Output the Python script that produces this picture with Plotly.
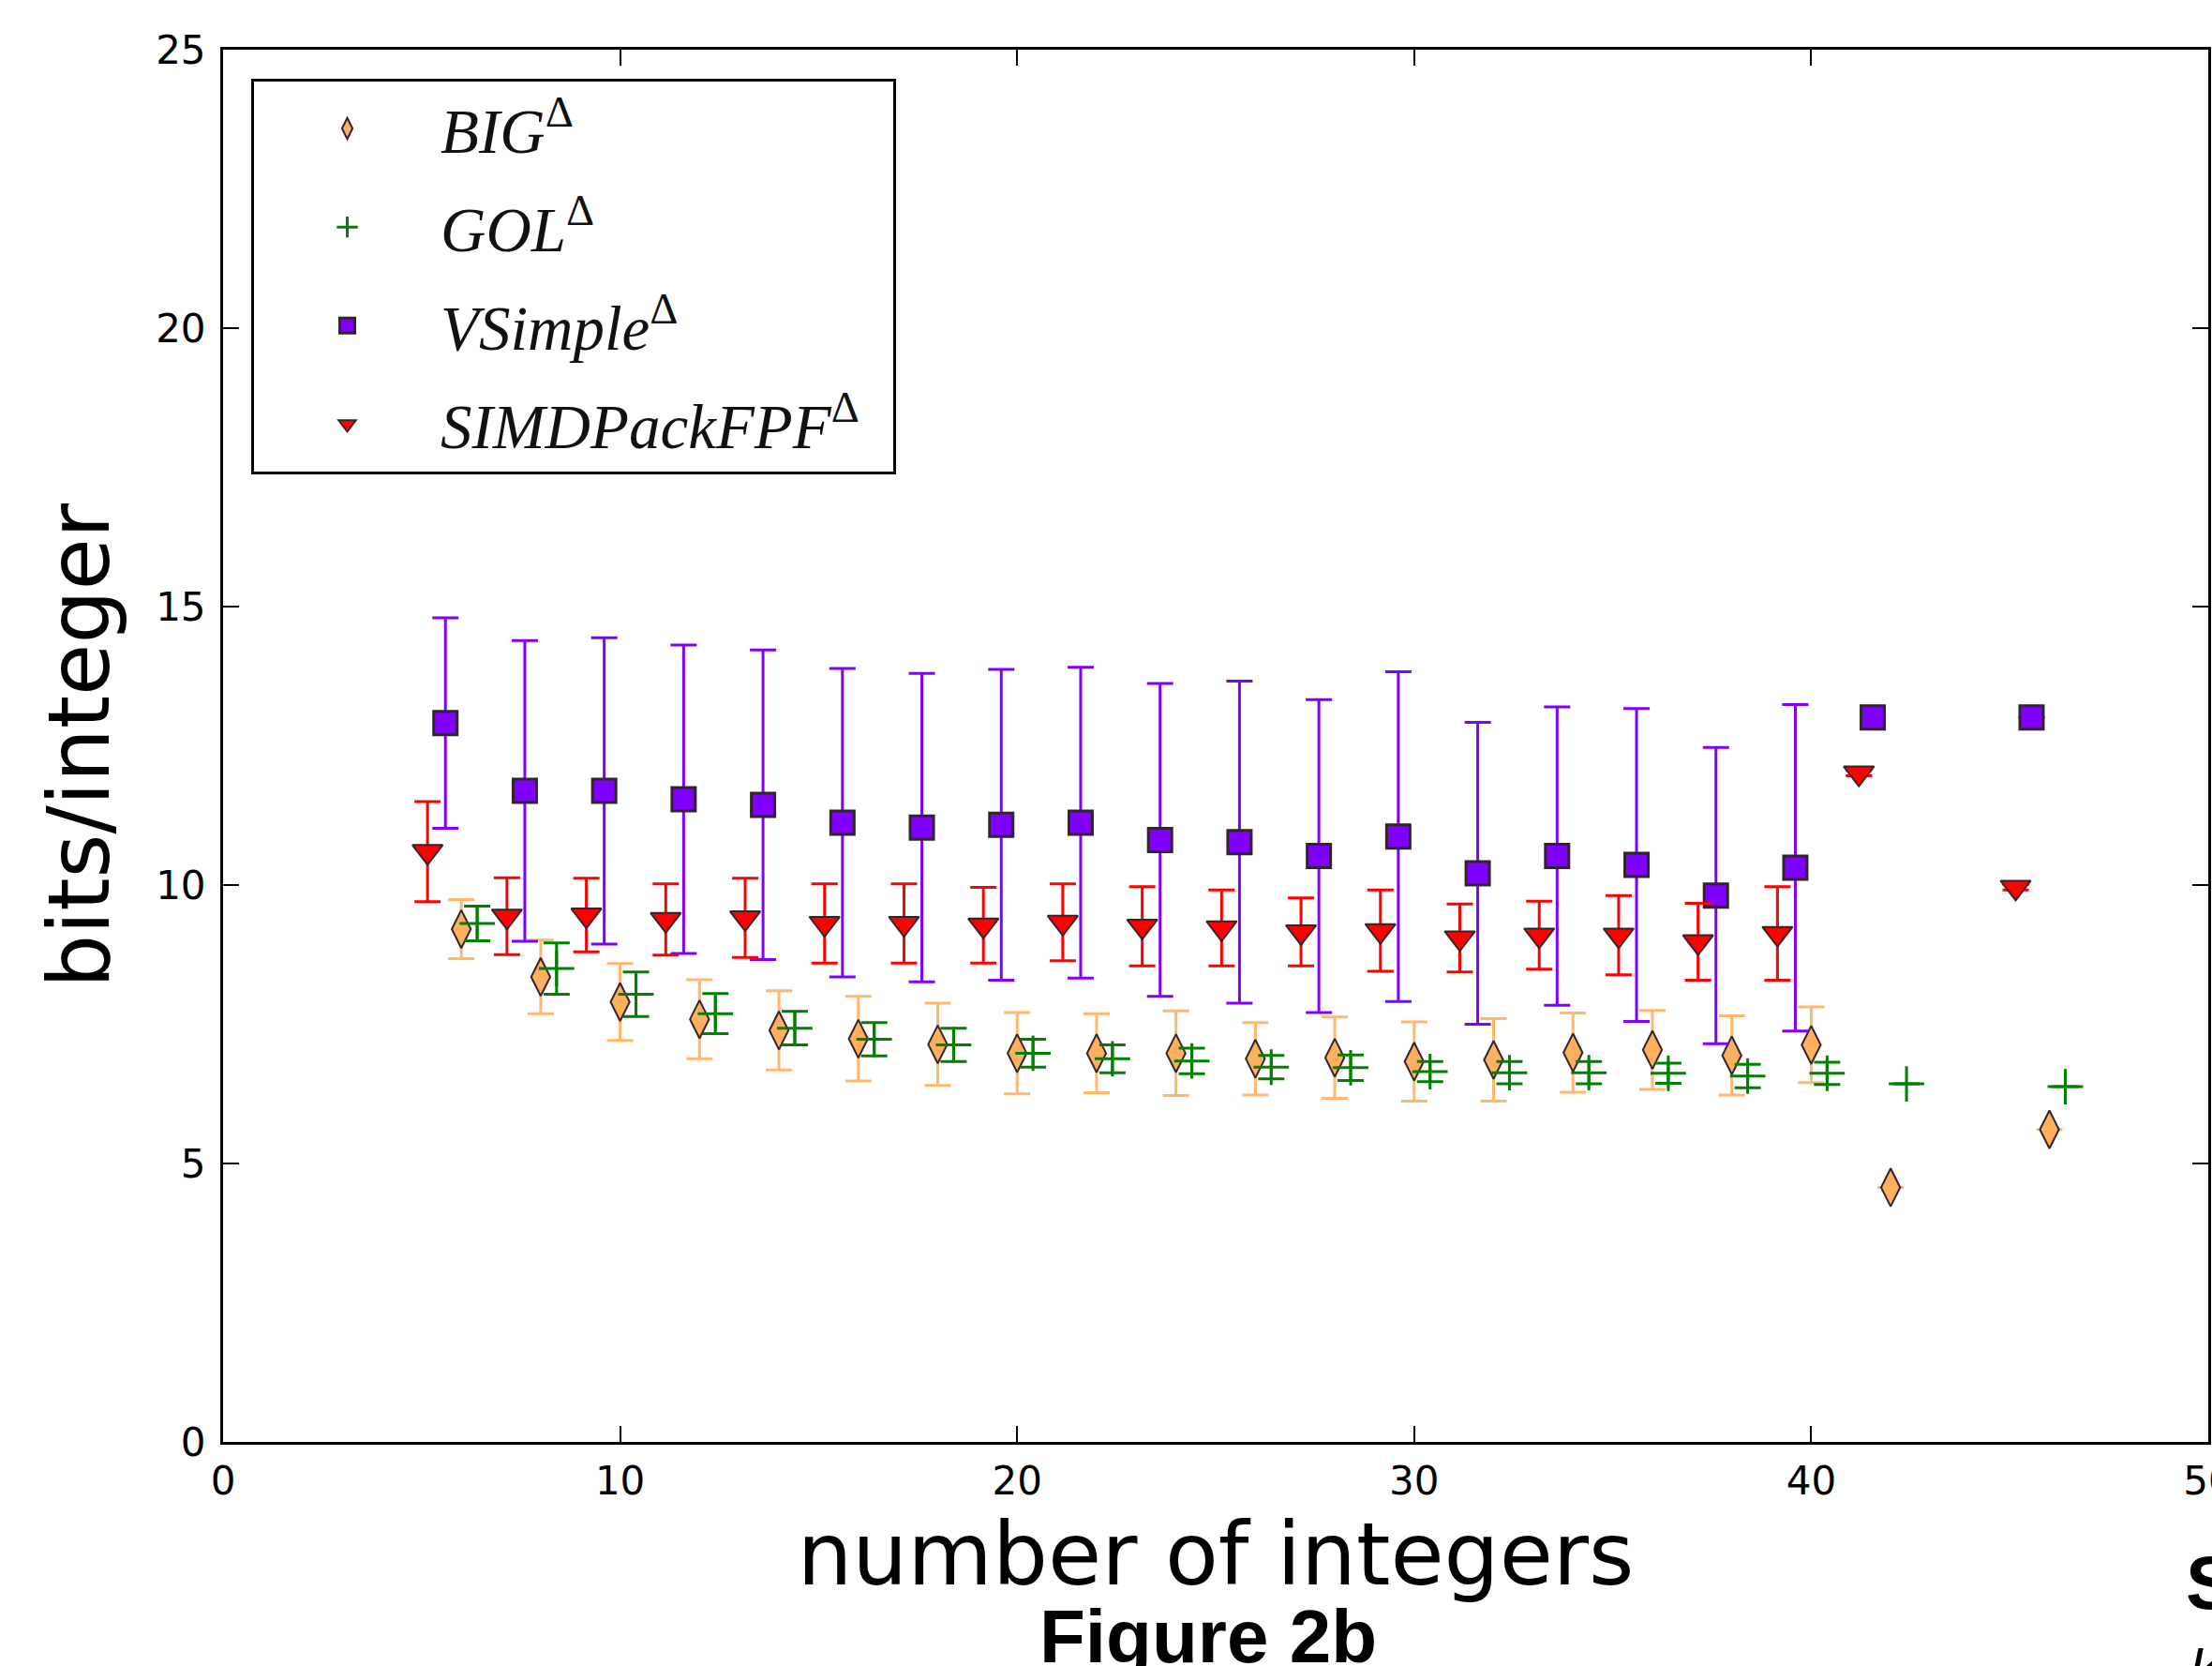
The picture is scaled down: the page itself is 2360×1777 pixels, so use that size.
import plotly.graph_objects as go

# ---------------- data ----------------
big_x = [6, 8, 10, 12, 14, 16, 18, 20, 22, 24, 26, 28, 30, 32, 34, 36, 38, 40, 42, 46]
big_y = [9.21, 8.35, 7.90, 7.59, 7.39, 7.24, 7.14, 6.98, 6.98, 6.98, 6.88, 6.90, 6.83, 6.86, 6.99, 7.04, 6.94, 7.13, 4.57, 5.61]
big_err = [0.53, 0.66, 0.69, 0.71, 0.71, 0.76, 0.74, 0.73, 0.71, 0.76, 0.65, 0.73, 0.71, 0.74, 0.71, 0.71, 0.71, 0.68, 0.0, 0.0]

gol_x = [6.4, 8.4, 10.4, 12.4, 14.4, 16.4, 18.4, 20.4, 22.4, 24.4, 26.4, 28.4, 30.4, 32.4, 34.4, 36.4, 38.4, 40.4, 42.4, 46.4]
gol_y = [9.31, 8.50, 8.04, 7.69, 7.43, 7.23, 7.13, 6.98, 6.88, 6.84, 6.73, 6.72, 6.65, 6.63, 6.63, 6.62, 6.57, 6.62, 6.43, 6.38]
gol_err = [0.31, 0.46, 0.40, 0.36, 0.30, 0.30, 0.30, 0.25, 0.25, 0.23, 0.21, 0.23, 0.18, 0.20, 0.20, 0.18, 0.21, 0.20, 0.0, 0.0]

vs_x = [5.6, 7.6, 9.6, 11.6, 13.6, 15.6, 17.6, 19.6, 21.6, 23.6, 25.6, 27.6, 29.6, 31.6, 33.6, 35.6, 37.6, 39.6, 41.55, 45.55]
vs_y = [12.91, 11.69, 11.69, 11.54, 11.44, 11.12, 11.03, 11.08, 11.12, 10.81, 10.77, 10.52, 10.87, 10.21, 10.52, 10.36, 9.81, 10.31, 13.01, 13.01]
vs_err = [1.89, 2.70, 2.75, 2.77, 2.78, 2.77, 2.77, 2.79, 2.79, 2.81, 2.89, 2.81, 2.96, 2.71, 2.68, 2.81, 2.66, 2.93, 0.0, 0.0]

simd_x = [5.15, 7.15, 9.15, 11.15, 13.15, 15.15, 17.15, 19.15, 21.15, 23.15, 25.15, 27.15, 29.15, 31.15, 33.15, 35.15, 37.15, 39.15, 41.2, 45.15]
simd_y = [10.60, 9.44, 9.46, 9.38, 9.41, 9.31, 9.31, 9.28, 9.33, 9.26, 9.23, 9.16, 9.18, 9.05, 9.10, 9.10, 8.98, 9.13, 12.01, 9.96]
simd_err = [0.90, 0.69, 0.66, 0.64, 0.71, 0.71, 0.71, 0.68, 0.69, 0.71, 0.68, 0.61, 0.73, 0.61, 0.61, 0.71, 0.69, 0.84, 0.05, 0.05]

x_ticks = [0, 10, 20, 30, 40, 50]
y_ticks = [0, 5, 10, 15, 20, 25]

# ---------------- styles ----------------
EDGE = "#33232b"
ORANGE = "#FFB05E"
ORANGE_ERR = "#FFB86C"
GREEN = "#008000"
PURPLE = "#8000FF"
RED = "#FF0000"

fig = go.Figure()

def add_series(name, x, y, err, symbol, size, color, errcolor, line_color, line_width, group):
    fig.add_trace(go.Scatter(
        x=x, y=y, mode="markers", name=name,
        legendgroup=group,
        marker=dict(symbol=symbol, size=size, color=color,
                    line=dict(color=line_color, width=line_width)),
        error_y=dict(type="data", array=err, visible=True,
                     color=errcolor, thickness=3, width=14),
    ))

add_series("<i>BIG</i><sup>Δ</sup>", big_x, big_y, big_err,
           "diamond-tall", 29, ORANGE, ORANGE_ERR, EDGE, 2, "g1")
add_series("<i>GOL</i><sup>Δ</sup>", gol_x, gol_y, gol_err,
           "cross-thin", 27, GREEN, GREEN, GREEN, 3, "g2")
add_series("<i>VSimple</i><sup>Δ</sup>", vs_x, vs_y, vs_err,
           "square", 25, PURPLE, PURPLE, EDGE, 3, "g3")
add_series("<i>SIMDPackFPF</i><sup>Δ</sup>&nbsp;&#8201;", simd_x, simd_y, simd_err,
           "triangle-down", 28, RED, RED, EDGE, 2, "g4")

W, H = 2360, 1777
L, R, T, B = 238, 4, 53, 239
PW, PH = W - L - R, H - T - B

axis_common = dict(
    showline=True, linecolor="black", linewidth=3, mirror="ticks",
    ticks="inside", ticklen=17, tickwidth=2, tickcolor="black",
    showgrid=False, zeroline=False,
    tickfont=dict(family="DejaVu Sans", size=42, color="black"),
    automargin=False, ticklabeloverflow="allow",
)

fig.update_layout(
    width=W, height=H,
    margin=dict(l=L, r=R, t=T, b=B, pad=0),
    paper_bgcolor="white", plot_bgcolor="white",
    xaxis=dict(range=[0, 50], tickvals=x_ticks, ticktext=[str(v) for v in x_ticks],
               ticklabelstandoff=3,
               title=dict(text="number of integers", standoff=20,
                          font=dict(family="DejaVu Sans", size=93, color="black")),
               **axis_common),
    yaxis=dict(range=[0, 25], tickvals=y_ticks, ticktext=[str(v) for v in y_ticks],
               ticklabelstandoff=7,
               title=dict(text="bits/integer", standoff=20,
                          font=dict(family="DejaVu Sans", size=90, color="black")),
               **axis_common),
    showlegend=True,
    legend=dict(
        x=(268 - L) / PW, y=(1538 - 84) / PH, xanchor="left", yanchor="top",
        bgcolor="white", bordercolor="black", borderwidth=3,
        font=dict(family="Liberation Serif", size=67, color="#111111"),
        traceorder="grouped", tracegroupgap=15,
        itemwidth=189, itemsizing="trace",
    ),
    annotations=[
        dict(text="<b>Figure 2b</b>", xref="paper", yref="paper",
             x=0.496, y=(1538 - 1745) / PH, xanchor="center", yanchor="middle",
             showarrow=False,
             font=dict(family="Liberation Sans", size=80, color="black")),
        dict(text="<b>S</b>", xref="paper", yref="paper",
             x=(2330 - L) / PW, y=(1538 - 1688) / PH,
             xanchor="left", yanchor="middle", showarrow=False,
             font=dict(family="Liberation Sans", size=80, color="black")),
        dict(text="<i>k</i>", xref="paper", yref="paper",
             x=(2334 - L) / PW, y=(1538 - 1745) / PH,
             xanchor="left", yanchor="top", showarrow=False,
             font=dict(family="Liberation Sans", size=60, color="black")),
    ],
)

fig.write_html(
    "out.html",
    config={"displayModeBar": False},
    post_script="document.body.style.margin='0';document.body.style.overflow='hidden';",
)
